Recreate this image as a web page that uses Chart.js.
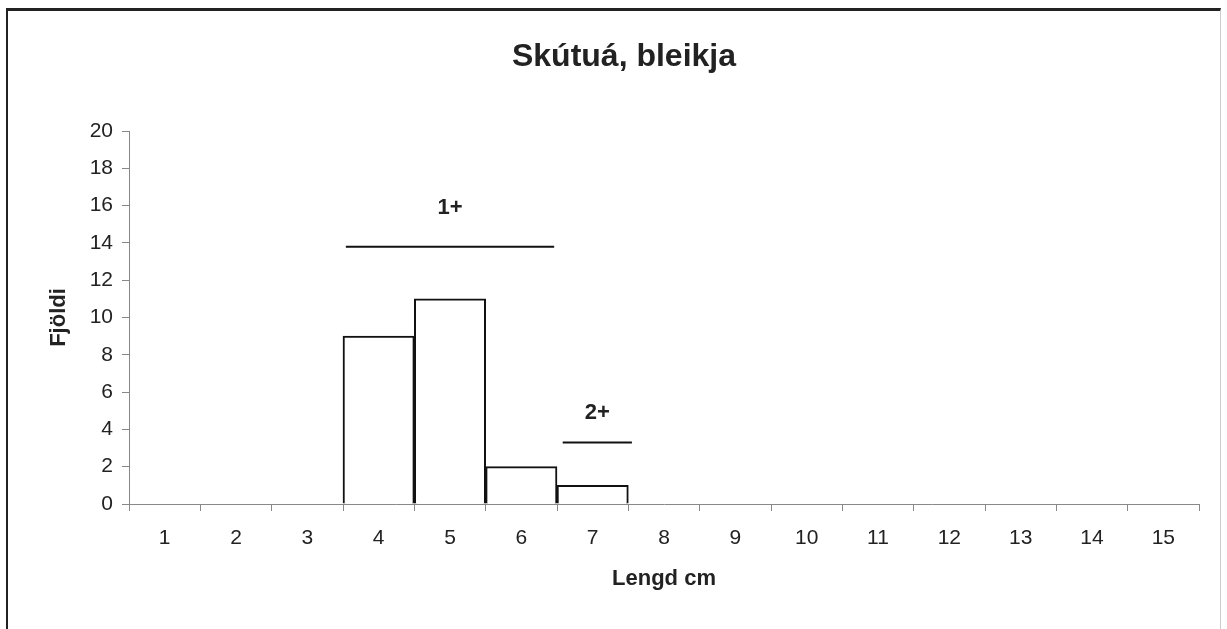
<!DOCTYPE html>
<html>
<head>
<meta charset="utf-8">
<script src="https://cdn.jsdelivr.net/npm/chart.js@4.4.0/dist/chart.umd.min.js"></script>
<style>
  html, body { margin:0; padding:0; background:#fff; overflow:hidden; }
  #frame { position:absolute; left:6px; top:8px; width:1212px; height:640px;
           border-left:2px solid #222; border-top:3px solid #222; border-right:1px solid #ccc; }
  #chart { position:absolute; left:0; top:0; }
</style>
</head>
<body>
<div id="frame"></div>
<canvas id="chart" width="1227" height="629"></canvas>
<script>
const title = 'Skútuá, bleikja';
const lengths = ['1','2','3','4','5','6','7','8','9','10','11','12','13','14','15'];
const counts = [0, 0, 0, 9, 11, 2, 1, 0, 0, 0, 0, 0, 0, 0, 0];

// age-group markers (x in category units, y in count units)
const groupLabels = ['1+', '2+'];
const groupStart = [3.54, 6.58];
const groupEnd = [6.46, 7.55];
const groupLineY = [13.8, 3.3];
const groupTextY = [15.9, 4.9];

const FONT = "'Liberation Sans', Arial, sans-serif";

const groupLines = groupLabels.map((lab, i) => ({
    type: 'line', label: lab, xAxisID: 'x2',
    data: [{x: groupStart[i], y: groupLineY[i]}, {x: groupEnd[i], y: groupLineY[i]}],
    borderColor: '#111', borderWidth: 2, pointRadius: 0, fill: false
}));

const extras = {
  id: 'extras',
  afterDraw(chart) {
    const ctx = chart.ctx, x2 = chart.scales.x2, y = chart.scales.y;
    ctx.save();
    ctx.fillStyle = '#222';
    ctx.textAlign = 'center';
    ctx.textBaseline = 'middle';
    ctx.font = "bold 32px " + FONT;
    ctx.fillText(title, 624, 57);
    ctx.font = "bold 22px " + FONT;
    groupLabels.forEach((lab, i) => {
      ctx.fillText(lab, x2.getPixelForValue((groupStart[i] + groupEnd[i]) / 2), y.getPixelForValue(groupTextY[i]));
    });
    ctx.restore();
  }
};

new Chart(document.getElementById('chart'), {
  type: 'bar',
  data: {
    labels: lengths,
    datasets: [
      {label: 'Fjöldi', data: counts, backgroundColor: '#fff', borderColor: '#111', borderWidth: 2,
       barPercentage: 1, categoryPercentage: 1, grouped: false},
      ...groupLines
    ]
  },
  options: {
    responsive: false, animation: false, devicePixelRatio: 1,
    layout: {padding: {left: 0, top: 131, right: 28, bottom: 0}},
    plugins: {legend: {display: false}, tooltip: {enabled: false}},
    scales: {
      x: {
        afterFit: s => { s.height = 125; },
        grid: {drawOnChartArea: false, drawTicks: true, tickLength: 7, color: '#888', offset: true},
        border: {color: '#888', width: 1},
        ticks: {color: '#222', font: {family: FONT, size: 21}, padding: 15},
        title: {display: true, text: 'Lengd cm', color: '#222', font: {family: FONT, size: 22, weight: 'bold'},
                padding: {top: 0, bottom: 37}}
      },
      x2: {type: 'linear', display: false, offset: false, bounds: 'data', min: 0.5, max: 15.5},
      y: {
        min: 0, max: 20,
        afterFit: s => { s.width = 129; },
        grid: {drawOnChartArea: false, drawTicks: true, tickLength: 7, color: '#888'},
        border: {color: '#888', width: 1},
        ticks: {stepSize: 2, color: '#222', font: {family: FONT, size: 21}, padding: 9},
        title: {display: true, text: 'Fjöldi', color: '#222', font: {family: FONT, size: 22, weight: 'bold'},
                padding: {top: 46, bottom: 0}}
      }
    }
  },
  plugins: [extras]
});
</script>
</body>
</html>
